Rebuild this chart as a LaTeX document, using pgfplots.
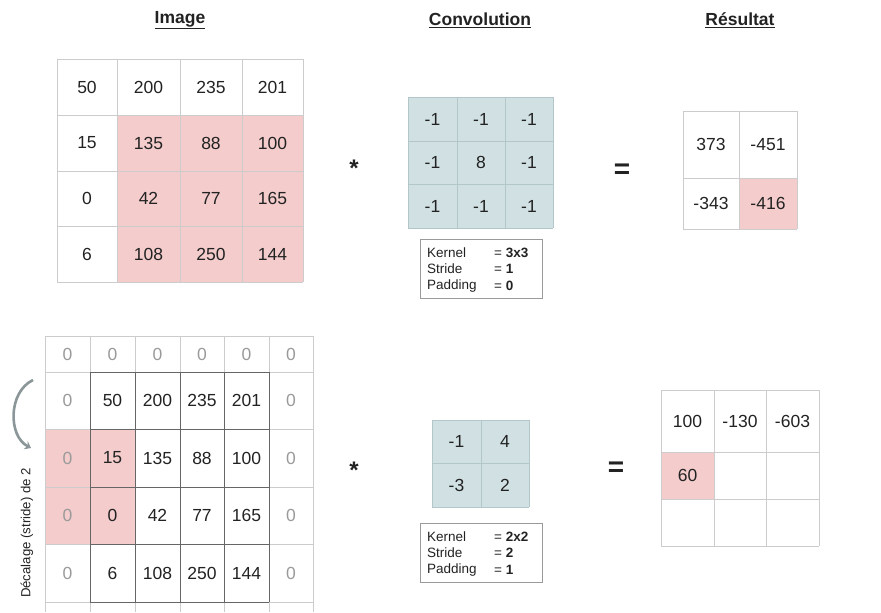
\documentclass[border=0pt]{standalone}
\usepackage{pgfplots}
\pgfplotsset{compat=1.18}
\usepackage{pgfplotstable}
\usepackage{fontspec}
\setmainfont{Liberation Sans}
\usetikzlibrary{arrows.meta}

\definecolor{pinkc}{HTML}{F4CCCC}
\definecolor{bluec}{HTML}{D0E0E3}
\definecolor{gridl}{HTML}{CCCCCC}
\definecolor{gridb}{HTML}{B3C6CA}
\definecolor{gridd}{HTML}{666666}
\definecolor{txt}{HTML}{222222}
\definecolor{padc}{HTML}{9A9A9A}
\definecolor{arrowc}{HTML}{8A9698}

% cell centres in picture pixels (y downwards) and the value in each cell
\pgfplotstableread{
x y v
87 87 50
148.5 87 200
211 87 235
272.5 87 201
87 143 15
148.5 143 135
211 143 88
272.5 143 100
87 198.5 0
148.5 198.5 42
211 198.5 77
272.5 198.5 165
87 254 6
148.5 254 108
211 254 250
272.5 254 144
}\imgA

\pgfplotstableread{
x y v
432.5 119 -1
481 119 -1
529 119 -1
432.5 162.5 -1
481 162.5 8
529 162.5 -1
432.5 206 -1
481 206 -1
529 206 -1
}\kerA

\pgfplotstableread{
x y v
711 144.5 373
768 144.5 -451
711 203.5 -343
768 203.5 -416
}\resA

\pgfplotstableread{
x y v
112.5 400.5 50
157.5 400.5 200
202 400.5 235
246.5 400.5 201
112.5 458 15
157.5 458 135
202 458 88
246.5 458 100
112.5 515.5 0
157.5 515.5 42
202 515.5 77
246.5 515.5 165
112.5 573 6
157.5 573 108
202 573 250
246.5 573 144
}\imgB

\pgfplotstableread{
x y v
67.5 354 0
112.5 354 0
157.5 354 0
202 354 0
246.5 354 0
291 354 0
67.5 400.5 0
291 400.5 0
67.5 458 0
291 458 0
67.5 515.5 0
291 515.5 0
67.5 573 0
291 573 0
}\padB

\pgfplotstableread{
x y v
456.5 441.5 -1
505 441.5 4
456.5 485 -3
505 485 2
}\kerB

\pgfplotstableread{
x y v
687.5 421 100
740 421 -130
792.5 421 -603
687.5 475.5 60
}\resB

\pgfplotsset{
  cells/.style={draw=none, mark=none, nodes near coords, point meta=explicit symbolic,
    nodes near coords style={anchor=center, inner sep=0pt, text=#1,
      font=\fontsize{17.5}{20}\selectfont}},
}

\begin{document}
\begin{tikzpicture}
\begin{axis}[
  width=881pt, height=612pt, scale only axis,
  xmin=0, xmax=881, ymin=0, ymax=612, y dir=reverse,
  hide axis, clip=false,
]
\path (axis cs:0,0) rectangle (axis cs:881,612);

% titles
\node[font=\fontsize{17.5}{20}\selectfont\bfseries, text=txt] at (axis cs:180,20) {\underline{Image}};
\node[font=\fontsize{17.5}{20}\selectfont\bfseries, text=txt] at (axis cs:480,20) {\underline{Convolution}};
\node[font=\fontsize{17.5}{20}\selectfont\bfseries, text=txt] at (axis cs:740,20) {\underline{Résultat}};

% ---- top row ----
\fill[pinkc] (axis cs:117,115) rectangle (axis cs:303,282);
\draw[gridl, line width=0.8pt] \foreach \x in {57,117,180,242,303} {(axis cs:\x,59) -- (axis cs:\x,282)};
\draw[gridl, line width=0.8pt] \foreach \y in {59,115,171,226,282} {(axis cs:57,\y) -- (axis cs:303,\y)};

\fill[bluec] (axis cs:408,97) rectangle (axis cs:553,228);
\draw[gridb, line width=0.8pt] \foreach \x in {408,457,505,553} {(axis cs:\x,97) -- (axis cs:\x,228)};
\draw[gridb, line width=0.8pt] \foreach \y in {97,141,184,228} {(axis cs:408,\y) -- (axis cs:553,\y)};

\fill[pinkc] (axis cs:739,178) rectangle (axis cs:797,229);
\draw[gridl, line width=0.8pt] \foreach \x in {683,739,797} {(axis cs:\x,111) -- (axis cs:\x,229)};
\draw[gridl, line width=0.8pt] \foreach \y in {111,178,229} {(axis cs:683,\y) -- (axis cs:797,\y)};

\draw[padc, line width=0.8pt] (axis cs:420,239) rectangle (axis cs:542,298);
\node[anchor=west, inner sep=0pt, text=txt, font=\fontsize{13.5}{15}\selectfont] at (axis cs:427,253) {Kernel};
\node[anchor=west, inner sep=0pt, text=txt, font=\fontsize{13.5}{15}\selectfont] at (axis cs:427,269) {Stride};
\node[anchor=west, inner sep=0pt, text=txt, font=\fontsize{13.5}{15}\selectfont] at (axis cs:427,286) {Padding};
\node[anchor=west, inner sep=0pt, text=txt, font=\fontsize{13.5}{15}\selectfont] at (axis cs:494,253) {= \textbf{3x3}};
\node[anchor=west, inner sep=0pt, text=txt, font=\fontsize{13.5}{15}\selectfont] at (axis cs:494,269) {= \textbf{1}};
\node[anchor=west, inner sep=0pt, text=txt, font=\fontsize{13.5}{15}\selectfont] at (axis cs:494,286) {= \textbf{0}};

\node[text=txt, font=\fontsize{24}{26}\selectfont\bfseries] at (axis cs:354,168) {*};
\node[text=txt, font=\fontsize{28}{30}\selectfont\bfseries] at (axis cs:622,171) {=};

% ---- bottom row ----
\fill[pinkc] (axis cs:45,429) rectangle (axis cs:135,544);
\draw[gridl, line width=0.8pt] \foreach \x in {45,90,135,180,224,269,313} {(axis cs:\x,336) -- (axis cs:\x,612)};
\draw[gridl, line width=0.8pt] \foreach \y in {336,372,429,487,544,602} {(axis cs:45,\y) -- (axis cs:313,\y)};
\draw[gridd, line width=0.9pt] \foreach \x in {90,135,180,224,269} {(axis cs:\x,372) -- (axis cs:\x,602)};
\draw[gridd, line width=0.9pt] \foreach \y in {372,429,487,544,602} {(axis cs:90,\y) -- (axis cs:269,\y)};

\draw[arrowc, line width=2.6pt, -{Stealth[length=6pt, width=9pt]}]
  (axis cs:33,380) .. controls (axis cs:8,392) and (axis cs:8,436) .. (axis cs:31,448);
\node[rotate=90, text=txt, font=\fontsize{13.2}{15}\selectfont] at (axis cs:27,533) {Décalage (stride) de 2};

\fill[bluec] (axis cs:432,420) rectangle (axis cs:529,507);
\draw[gridb, line width=0.8pt] \foreach \x in {432,481,529} {(axis cs:\x,420) -- (axis cs:\x,507)};
\draw[gridb, line width=0.8pt] \foreach \y in {420,463,507} {(axis cs:432,\y) -- (axis cs:529,\y)};

\fill[pinkc] (axis cs:661,452) rectangle (axis cs:714,499);
\draw[gridl, line width=0.8pt] \foreach \x in {661,714,766,819} {(axis cs:\x,390) -- (axis cs:\x,546)};
\draw[gridl, line width=0.8pt] \foreach \y in {390,452,499,546} {(axis cs:661,\y) -- (axis cs:819,\y)};

\draw[padc, line width=0.8pt] (axis cs:420,523) rectangle (axis cs:542,582);
\node[anchor=west, inner sep=0pt, text=txt, font=\fontsize{13.5}{15}\selectfont] at (axis cs:427,537) {Kernel};
\node[anchor=west, inner sep=0pt, text=txt, font=\fontsize{13.5}{15}\selectfont] at (axis cs:427,553) {Stride};
\node[anchor=west, inner sep=0pt, text=txt, font=\fontsize{13.5}{15}\selectfont] at (axis cs:427,570) {Padding};
\node[anchor=west, inner sep=0pt, text=txt, font=\fontsize{13.5}{15}\selectfont] at (axis cs:494,537) {= \textbf{2x2}};
\node[anchor=west, inner sep=0pt, text=txt, font=\fontsize{13.5}{15}\selectfont] at (axis cs:494,553) {= \textbf{2}};
\node[anchor=west, inner sep=0pt, text=txt, font=\fontsize{13.5}{15}\selectfont] at (axis cs:494,570) {= \textbf{1}};

\node[text=txt, font=\fontsize{24}{26}\selectfont\bfseries] at (axis cs:354,470) {*};
\node[text=txt, font=\fontsize{28}{30}\selectfont\bfseries] at (axis cs:616,469) {=};

% ---- cell values ----
\addplot[cells=txt] table[x=x, y=y, meta=v] {\imgA};
\addplot[cells=txt] table[x=x, y=y, meta=v] {\kerA};
\addplot[cells=txt] table[x=x, y=y, meta=v] {\resA};
\addplot[cells=txt] table[x=x, y=y, meta=v] {\imgB};
\addplot[cells=padc] table[x=x, y=y, meta=v] {\padB};
\addplot[cells=txt] table[x=x, y=y, meta=v] {\kerB};
\addplot[cells=txt] table[x=x, y=y, meta=v] {\resB};
\end{axis}
\end{tikzpicture}
\end{document}
